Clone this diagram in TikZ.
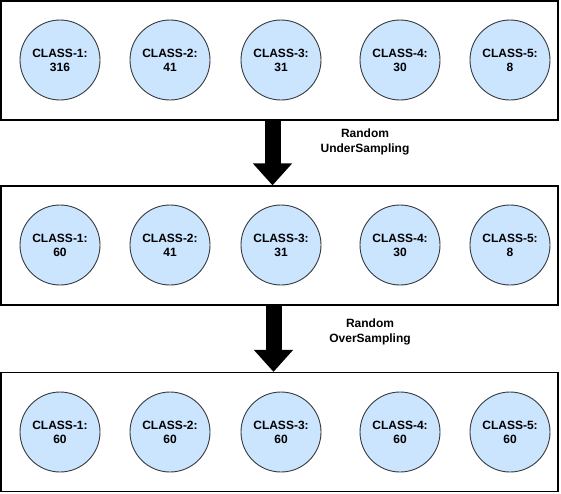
\documentclass[tikz,border=0pt]{standalone}
\usepackage{fontspec}
\setmainfont{Liberation Sans}
\usepackage{tikz}
\usetikzlibrary{arrows.meta}

\begin{document}
\begin{tikzpicture}[x=1pt,y=-1pt]

		\definecolor{bluefill}{HTML}{CCE5FF}
		\definecolor{greyline}{HTML}{36393D}

		\tikzset{
			klasse/.style={circle, draw=greyline, fill=bluefill, line width=0.9pt, minimum size=80pt, inner sep=0pt, align=center, font=\bfseries\fontsize{12}{14}\selectfont},
			kasten/.style={draw=black, line width=1.3pt, minimum width=557pt, minimum height=119pt, inner sep=0pt},
			pfeil/.style={line width=16pt, -{Triangle[width=38pt,length=22pt]}},
			beschr/.style={align=center, font=\bfseries\fontsize{12}{15}\selectfont}
		}

		\useasboundingbox (0,0) rectangle (561,493);

		% Kaesten
		\node[kasten] (b1) at (279.5,60.5) {};
		\node[kasten] (b2) at (279.5,245.5) {};
		\node[kasten] (b3) at (279.5,432) {};

		% Klassen
		\foreach \n/\x/\a/\b/\c in {1/60/316/60/60, 2/170/41/41/60, 3/281/31/31/60, 4/400/30/30/60, 5/510/8/8/60} {
			\node[klasse] (c1\n) at (\x,60) {CLASS-\n:\\\a};
			\node[klasse] (c2\n) at (\x,245) {CLASS-\n:\\\b};
			\node[klasse] (c3\n) at (\x,432) {CLASS-\n:\\\c};
		}

		% Pfeile
		\draw[pfeil] (272.5,0 |- b1.south) -- (272.5,0 |- b2.north);
		\draw[pfeil] (273.5,0 |- b2.south) -- (273.5,0 |- b3.north);

		% Beschriftung
		\node[beschr] (u1) at (365,141.5) {Random\\UnderSampling};
		\node[beschr] (o1) at (370,331.5) {Random\\OverSampling};

	\end{tikzpicture}
\end{document}
